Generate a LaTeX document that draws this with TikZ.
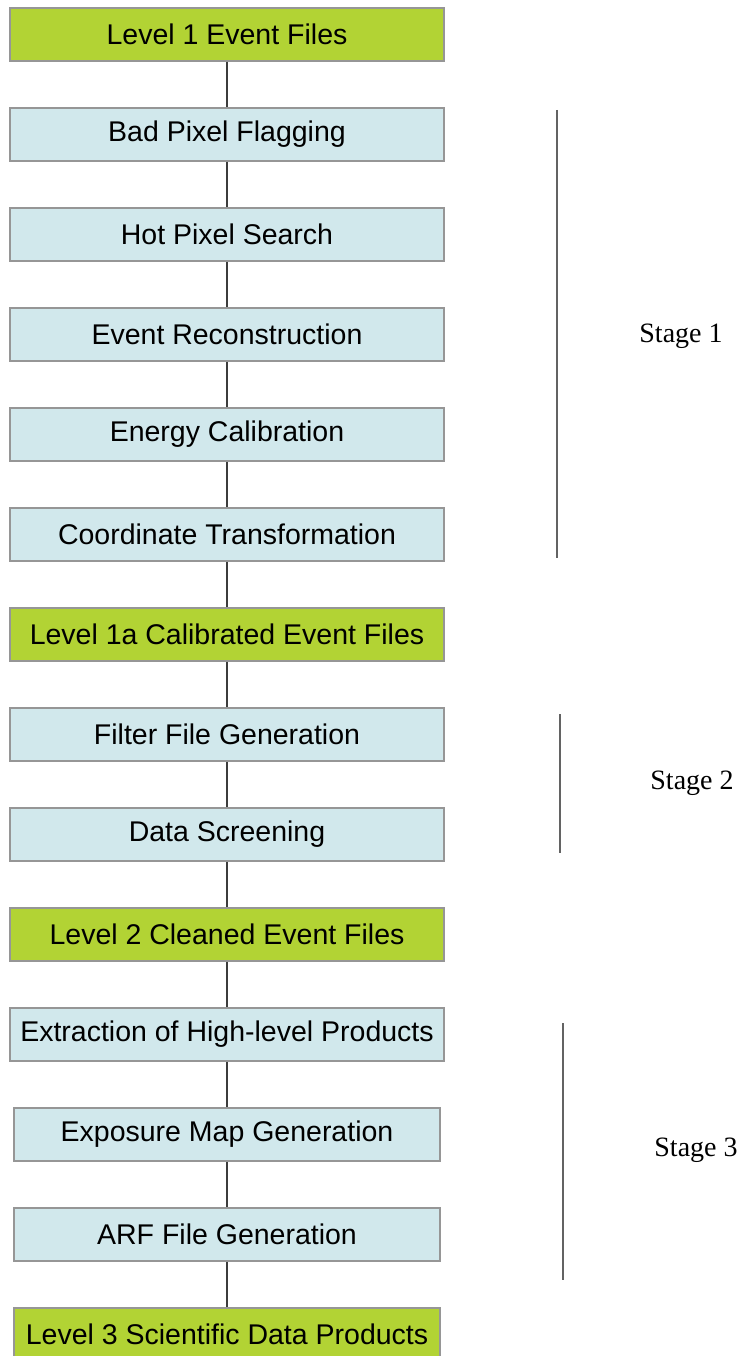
\documentclass[tikz,border=0pt]{standalone}
\usepackage{fontspec}
\setmainfont{Liberation Serif}
\setsansfont{Liberation Sans}
\usepackage{tikz}
\usetikzlibrary{positioning}

\definecolor{levelgreen}{RGB}{178,211,52}
\definecolor{steplblue}{RGB}{209,232,236}
\definecolor{boxgrey}{RGB}{150,150,150}
\definecolor{linegrey}{RGB}{60,60,60}

\tikzset{
  levelbox/.style={draw=boxgrey, line width=1.5pt, fill=levelgreen,
    minimum width=434pt, minimum height=53pt, inner sep=0pt,
    font=\sffamily\fontsize{28.5}{30}\selectfont},
  stepbox/.style={levelbox, fill=steplblue},
  link/.style={draw=linegrey, line width=1.6pt},
  stagebar/.style={draw=linegrey!80, line width=2pt},
  stagelabel/.style={font=\rmfamily\fontsize{28}{30}\selectfont}
}

\begin{document}
\begin{tikzpicture}[x=1pt, y=-1pt, node distance=45.5pt]
  \useasboundingbox (0, 0) rectangle (740, 1356);

  % Processing chain
  \node[levelbox] (lvlone)   at (227, 34.5)     {Level 1 Event Files};
  \node[stepbox]  (badpix)   [below=of lvlone]  {Bad Pixel Flagging};
  \node[stepbox]  (hotpix)   [below=of badpix]  {Hot Pixel Search};
  \node[stepbox]  (evrecon)  [below=of hotpix]  {Event Reconstruction};
  \node[stepbox]  (encal)    [below=of evrecon] {Energy Calibration};
  \node[stepbox]  (coord)    [below=of encal]   {Coordinate Transformation};
  \node[levelbox] (lvlonea)  [below=of coord]   {Level 1a Calibrated Event Files};
  \node[stepbox]  (filtgen)  [below=of lvlonea] {Filter File Generation};
  \node[stepbox]  (screen)   [below=of filtgen] {Data Screening};
  \node[levelbox] (lvltwo)   [below=of screen]  {Level 2 Cleaned Event Files};
  \node[stepbox]  (extract)  [below=of lvltwo]  {Extraction of High-level Products};
  \node[stepbox, minimum width=426pt] (expmap) [below=of extract] {Exposure Map Generation};
  \node[stepbox, minimum width=426pt] (arfgen) [below=of expmap]  {ARF File Generation};
  \node[levelbox, minimum width=426pt] (lvlthree) [below=of arfgen] {Level 3 Scientific Data Products};

  % Connectors
  \draw[link] (lvlone) -- (badpix);
  \draw[link] (badpix) -- (hotpix);
  \draw[link] (hotpix) -- (evrecon);
  \draw[link] (evrecon) -- (encal);
  \draw[link] (encal) -- (coord);
  \draw[link] (coord) -- (lvlonea);
  \draw[link] (lvlonea) -- (filtgen);
  \draw[link] (filtgen) -- (screen);
  \draw[link] (screen) -- (lvltwo);
  \draw[link] (lvltwo) -- (extract);
  \draw[link] (extract) -- (expmap);
  \draw[link] (expmap) -- (arfgen);
  \draw[link] (arfgen) -- (lvlthree);

  % Stage brackets
  \coordinate (sonetop) at (557, 110);
  \coordinate (sonebot) at (557, 558);
  \draw[stagebar] (sonetop) -- (sonebot);
  \node[stagelabel] (sone) at (681, 336) {Stage 1};

  \coordinate (stwotop) at (560, 714);
  \coordinate (stwobot) at (560, 853);
  \draw[stagebar] (stwotop) -- (stwobot);
  \node[stagelabel] (stwo) at (692, 783) {Stage 2};

  \coordinate (sthreetop) at (563, 1023);
  \coordinate (sthreebot) at (563, 1280);
  \draw[stagebar] (sthreetop) -- (sthreebot);
  \node[stagelabel] (sthree) at (696, 1150) {Stage 3};
\end{tikzpicture}
\end{document}
